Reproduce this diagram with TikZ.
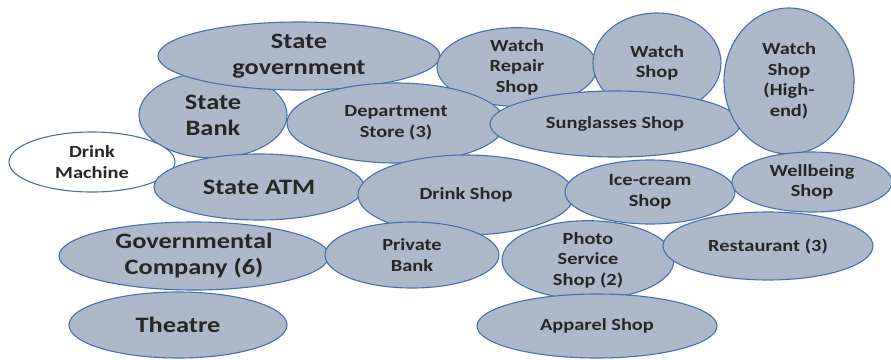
\documentclass[tikz,border=0pt]{standalone}
\usepackage{fontspec}
\setmainfont[FakeStretch=1.2]{Carlito}
\usetikzlibrary{shapes.geometric}
\definecolor{blobfill}{RGB}{173,185,203}
\definecolor{blobline}{RGB}{72,110,172}

\begin{document}
\begin{tikzpicture} [x=1pt, y=-1pt,
  blob/.style={ellipse, draw=blobline, fill=blobfill, line width=1.1pt, inner sep=0pt, align=center, text=black!85},
  big/.style={font=\fontsize{22}{26}\bfseries},
  small/.style={font=\fontsize{17}{20.5}\bfseries}]
\useasboundingbox (0,0) rectangle (891,359);
% top rows
\foreach \n/\x/\y/\w/\h/\f/\t in {
  bank/213/115/74/43/big/{State\\Bank},
  gov/299/56/141/34/big/{State\\government},
  repair/517/67/80/35/small/{Watch\\Repair\\Shop},
  watch/657/63/64/50/small/{Watch\\Shop},
  dept/396/123/109/40/small/{Department\\Store (3)},
  sun/615/124/125/33/small/{Sunglasses Shop},
  high/789/81/65/73/small/{Watch\\Shop\\(High-\\end)}} {
 \node[blob, \f, minimum width=2*\w, minimum height=2*\h] (\n) at (\x,\y) {\t};
}
% drink machine has no fill
\node[blob, small, fill=white, minimum width=166, minimum height=60] (machine) at (92,162) {Drink\\Machine};
% middle and bottom rows
\foreach \n/\x/\y/\w/\h/\f/\t in {
  atm/259/187/105/33/big/{State ATM},
  drink/466/195/108/40/small/{Drink Shop},
  ice/650/192/85/32/small/{Ice-cream\\Shop},
  well/812/182/80/30/small/{Wellbeing\\Shop},
  company/194/256/135/34/big/{Governmental\\Company (6)},
  private/412/255/87/33/small/{Private\\Bank},
  photo/588/260/86/33/small/{Photo\\Service\\Shop (2)},
  rest/768/246/105/34/small/{Restaurant (3)},
  theatre/178/325/109/33/big/{Theatre},
  apparel/597/326/120/32/small/{Apparel Shop}} {
 \node[blob, \f, minimum width=2*\w, minimum height=2*\h] (\n) at (\x,\y) {\t};
}
\end{tikzpicture}
\end{document}
